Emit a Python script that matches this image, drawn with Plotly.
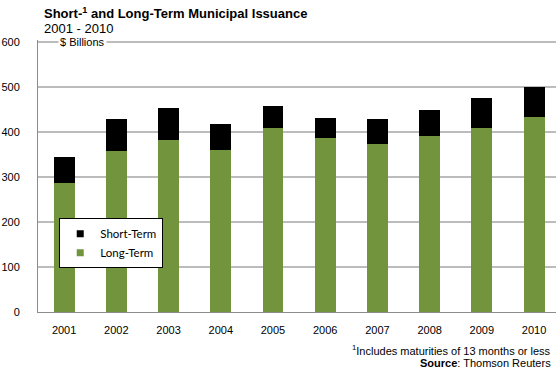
import plotly.graph_objects as go

years = ["2001", "2002", "2003", "2004", "2005", "2006", "2007", "2008", "2009", "2010"]
long_term = [288, 358, 382, 360, 409, 387, 373, 391, 409, 433]
short_term = [56, 72, 71, 58, 50, 45, 57, 59, 66, 67]
y_ticks = [0, 100, 200, 300, 400, 500, 600]

GREEN = "#71943c"
FONT = "Liberation Sans, Arial, sans-serif"

fig = go.Figure()
fig.add_trace(go.Bar(x=years, y=long_term, name="Long-Term", showlegend=False,
                     marker=dict(color=GREEN, line=dict(width=0)), width=0.4))
fig.add_trace(go.Bar(x=years, y=short_term, name="Short-Term", showlegend=False,
                     marker=dict(color="#000000", line=dict(width=0)), width=0.4))

# legend keys with small square swatches
for name, color in [("Short-Term", "#000000"), ("Long-Term", GREEN)]:
    fig.add_trace(go.Scatter(x=[None], y=[None], mode="markers", name=name,
                             marker=dict(symbol="square", size=7, color=color)))

fig.update_layout(
    width=556, height=370,
    barmode="stack",
    plot_bgcolor="white", paper_bgcolor="white",
    margin=dict(l=37.5, r=0, t=39.5, b=58),
    font=dict(family=FONT, size=11, color="#000000"),
    showlegend=True,
    legend=dict(
        x=0.041, y=0.345, xanchor="left", yanchor="top",
        traceorder="normal",
        bordercolor="#000000", borderwidth=1, bgcolor="white",
        font=dict(family="Lato, Carlito, sans-serif", size=11.5),
        itemwidth=30, tracegroupgap=0,
    ),
    xaxis=dict(
        type="category", range=[-0.5, 9.42],
        showline=True, linecolor="#8c8c8c", linewidth=1,
        showgrid=False, ticks="", ticklabelstandoff=8,
        tickfont=dict(size=11),
    ),
    yaxis=dict(
        range=[0, 605], tickvals=y_ticks,
        showline=True, linecolor="#8c8c8c", linewidth=1,
        showgrid=True, gridcolor="#bcbcbc", gridwidth=1.5,
        zeroline=False, ticks="", ticklabelstandoff=15,
        tickfont=dict(size=11),
    ),
    annotations=[
        dict(text="<b>Short-<sup>1</sup> and Long-Term Municipal Issuance</b>",
             xref="paper", yref="paper", x=0.007, y=1.0, yshift=27,
             xanchor="left", yanchor="middle", showarrow=False,
             font=dict(size=13, family=FONT)),
        dict(text="2001 - 2010",
             xref="paper", yref="paper", x=0.007, y=1.0, yshift=12,
             xanchor="left", yanchor="middle", showarrow=False,
             font=dict(size=13, family=FONT)),
        dict(text="$ Billions",
             xref="paper", yref="y", x=0.038, y=600,
             xanchor="left", yanchor="middle", showarrow=False,
             bgcolor="white", borderpad=1,
             font=dict(size=11, family=FONT)),
        dict(text="<sup>1</sup>Includes maturities of 13 months or less",
             xref="paper", yref="paper", x=0.995, y=0, yshift=-38,
             xanchor="right", yanchor="middle", showarrow=False,
             font=dict(size=11, family=FONT)),
        dict(text="<b>Source</b>: Thomson Reuters",
             xref="paper", yref="paper", x=0.995, y=0, yshift=-51,
             xanchor="right", yanchor="middle", showarrow=False,
             font=dict(size=11, family=FONT)),
    ],
)

fig.write_html("out.html")
